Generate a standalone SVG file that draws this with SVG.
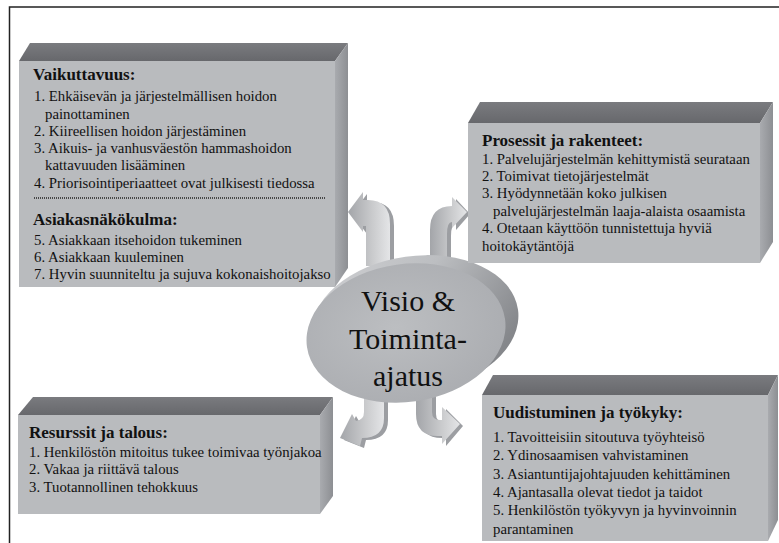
<svg xmlns="http://www.w3.org/2000/svg" width="779" height="543" viewBox="0 0 779 543">
<style>
.front{fill:#b9bbbe}
.top{fill:url(#topG)}
.side{fill:url(#sideG)}
.ttl{font-family:"Liberation Serif","Times New Roman",serif;font-size:17px;font-weight:bold;fill:#111}
.itm{font-family:"Liberation Serif","Times New Roman",serif;font-size:14.8px;fill:#111}
.ctr{font-family:"Liberation Serif","Times New Roman",serif;font-size:30px;fill:#111;text-anchor:middle}
.arw{fill:url(#arwG)}
.arwd{fill:#9c9ea2}
</style>
<defs>
<linearGradient id="topG" x1="0" y1="0" x2="0" y2="1"><stop offset="0" stop-color="#7a7b7f"/><stop offset="1" stop-color="#67686c"/></linearGradient>
<linearGradient id="sideG" x1="0" y1="0" x2="1" y2="0"><stop offset="0" stop-color="#a9abaf"/><stop offset="1" stop-color="#8d8f93"/></linearGradient>
<linearGradient id="rimG" x1="0" y1="0" x2="1" y2="0.6"><stop offset="0" stop-color="#cfd0d3"/><stop offset="0.5" stop-color="#bcbec1"/><stop offset="1" stop-color="#85878b"/></linearGradient>
<radialGradient id="faceG" cx="0.45" cy="0.45" r="0.6"><stop offset="0" stop-color="#bcbec1"/><stop offset="1" stop-color="#abadb1"/></radialGradient>
<linearGradient id="arwG" x1="0" y1="0" x2="1" y2="0"><stop offset="0" stop-color="#a3a5a9"/><stop offset="0.6" stop-color="#cbccce"/><stop offset="1" stop-color="#e4e5e7"/></linearGradient>
</defs>

<path d="M9.5,543 L9.5,7 L779,7" fill="none" stroke="#222" stroke-width="1.5"/>

<g id="connectors">
<g id="arrow-tl">
<path class="arwd" d="M370,268 L370,228 L367,228 L367,234 L352,214 L367,194 L367,202 L372,202 Q394,202 394,226 L394,268 Z"/>
<path class="arw" d="M366,266 L366,226 L363,226 L363,232 L348,212 L363,192 L363,200 L368,200 Q390,200 390,224 L390,266 Z"/>
</g>
<g id="arrow-tr">
<path class="arwd" d="M434,268 L434,232 Q434,208 456,208 L456,199 L470,214 L456,230 L456,224 Q451,224 451,236 L451,268 Z"/>
<path class="arw" d="M430,266 L430,230 Q430,206 452,206 L452,197 L467,212 L452,228 L452,222 Q447,222 447,234 L447,266 Z"/>
</g>
<g id="arrow-bl">
<path class="arwd" d="M368,396 L388,396 L388,420 Q388,440 366,440 L364,448 L344,440 L356,416 L360,423 Q368,422 368,414 Z"/>
<path class="arw" d="M364,394 L384,394 L384,418 Q384,438 362,438 L360,446 L340,438 L352,414 L356,421 Q364,420 364,412 Z"/>
</g>
<g id="arrow-br">
<path class="arwd" d="M420,396 L436,396 L436,414 Q436,422 444,422 L446,422 L446,409 L463,426 L446,446 L446,438 L442,438 Q420,438 420,416 Z"/>
<path class="arw" d="M416,394 L432,394 L432,412 Q432,420 440,420 L442,420 L442,407 L460,424 L442,444 L442,436 L438,436 Q416,436 416,414 Z"/>
</g>
</g>

<g id="center">
<ellipse cx="415" cy="324" rx="104" ry="68" transform="rotate(-8 415 324)" fill="url(#rimG)"/>
<ellipse cx="406" cy="333" rx="100" ry="69" transform="rotate(-8 406 333)" fill="url(#faceG)"/>
<text class="ctr" x="408" y="311">Visio &amp;</text>
<text class="ctr" x="408" y="349">Toiminta-</text>
<text class="ctr" x="408" y="386">ajatus</text>
</g>

<g id="box-vaikuttavuus">
<polygon class="top" points="19,61 30,43 348,43 335,61"/>
<polygon class="side" points="335,61 348,43 348,268 335,287"/>
<rect class="front" x="19" y="61" width="316" height="226"/>
<text class="ttl" x="33" y="80">Vaikuttavuus:</text>
<text class="itm" x="34" y="101">1. Ehkäisevän ja järjestelmällisen hoidon</text>
<text class="itm" x="45" y="118.5">painottaminen</text>
<text class="itm" x="34" y="135.5">2. Kiireellisen hoidon järjestäminen</text>
<text class="itm" x="34" y="152.5">3. Aikuis- ja vanhusväestön hammashoidon</text>
<text class="itm" x="45" y="170">kattavuuden lisääminen</text>
<text class="itm" x="34" y="187.5">4. Priorisointiperiaatteet ovat julkisesti tiedossa</text>
<line x1="34" y1="198" x2="325" y2="198" stroke="#222" stroke-width="1.5" stroke-dasharray="1 1"/>
<text class="ttl" x="33" y="225">Asiakasnäkökulma:</text>
<text class="itm" x="34" y="244.5">5. Asiakkaan itsehoidon tukeminen</text>
<text class="itm" x="34" y="262">6. Asiakkaan kuuleminen</text>
<text class="itm" x="34" y="279">7. Hyvin suunniteltu ja sujuva kokonaishoitojakso</text>
</g>

<g id="box-prosessit">
<polygon class="top" points="468,123 480,102 773,102 760,123"/>
<polygon class="side" points="760,123 773,102 773,242 760,263"/>
<rect class="front" x="468" y="123" width="292" height="140"/>
<text class="ttl" x="482" y="146">Prosessit ja rakenteet:</text>
<text class="itm" x="482" y="164">1. Palvelujärjestelmän kehittymistä seurataan</text>
<text class="itm" x="482" y="181">2. Toimivat tietojärjestelmät</text>
<text class="itm" x="482" y="198">3. Hyödynnetään koko julkisen</text>
<text class="itm" x="493" y="215.5">palvelujärjestelmän laaja-alaista osaamista</text>
<text class="itm" x="482" y="233">4. Otetaan käyttöön tunnistettuja hyviä</text>
<text class="itm" x="482" y="250.5">hoitokäytäntöjä</text>
</g>

<g id="box-resurssit">
<polygon class="top" points="18,415 33,397 333,397 320,415"/>
<polygon class="side" points="320,415 333,397 333,496 320,514"/>
<rect class="front" x="18" y="415" width="302" height="99"/>
<text class="ttl" x="29" y="438">Resurssit ja talous:</text>
<text class="itm" x="29" y="456.5">1. Henkilöstön mitoitus tukee toimivaa työnjakoa</text>
<text class="itm" x="29" y="474">2. Vakaa ja riittävä talous</text>
<text class="itm" x="29" y="492">3. Tuotannollinen tehokkuus</text>
</g>

<g id="box-uudistuminen">
<polygon class="top" points="482,395 493,375 778,375 768,395"/>
<polygon class="side" points="768,395 778,375 778,520 768,541"/>
<rect class="front" x="482" y="395" width="286" height="146"/>
<text class="ttl" x="493" y="418">Uudistuminen ja työkyky:</text>
<text class="itm" x="493" y="442">1. Tavoitteisiin sitoutuva työyhteisö</text>
<text class="itm" x="493" y="460.3">2. Ydinosaamisen vahvistaminen</text>
<text class="itm" x="493" y="478.6">3. Asiantuntijajohtajuuden kehittäminen</text>
<text class="itm" x="493" y="496.9">4. Ajantasalla olevat tiedot ja taidot</text>
<text class="itm" x="493" y="515.2">5. Henkilöstön työkyvyn ja hyvinvoinnin</text>
<text class="itm" x="493" y="533.5">parantaminen</text>
</g>
</svg>
